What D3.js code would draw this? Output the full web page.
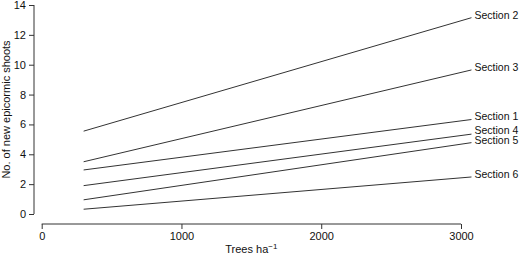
<!DOCTYPE html>
<html><head><meta charset="utf-8">
<script src="https://cdn.jsdelivr.net/npm/d3@7"></script>
<style>body{margin:0;background:#fff}svg{display:block}text{font-family:"Liberation Sans",Arial,sans-serif;fill:#111}</style>
</head><body>
<svg id="c" width="520" height="257"></svg>
<script>
const sections = ["Section 1","Section 2","Section 3","Section 4","Section 5","Section 6"];
const xValues = [300, 3075];
const startValues = [2.95, 5.55, 3.5, 1.9, 0.95, 0.32];
const endValues = [6.33, 13.15, 9.65, 5.35, 4.78, 2.48];
const labelOffsets = [0.12, 0.12, 0.12, 0.19, 0.07, 0.12];
const xTicks = [0, 1000, 2000, 3000];
const yTicks = [0, 2, 4, 6, 8, 10, 12, 14];

const svg = d3.select("#c");
const x = d3.scaleLinear().domain([0, 3000]).range([41.7, 461]);
const y = d3.scaleLinear().domain([0, 14]).range([214, 5]);

const col = "#333";
// y axis
const ya = svg.append("g").attr("transform","translate(34,0)")
  .call(d3.axisLeft(y).tickValues(yTicks).tickSize(5).tickPadding(3).tickFormat(d3.format("d")));
ya.select(".domain").attr("stroke",col).attr("d",`M0,${y(0)}V${y(14)}`);
ya.selectAll(".tick line").attr("stroke",col);
ya.selectAll("text").style("font-size","11px").attr("fill","#111").style("font-family","Liberation Sans, Arial, sans-serif");

// x axis
const xa = svg.append("g").attr("transform","translate(0,224)")
  .call(d3.axisBottom(x).tickValues(xTicks).tickSize(5).tickPadding(3).tickFormat(d3.format("d")));
xa.select(".domain").attr("stroke",col).attr("d",`M${x(0)},0H${x(3000)}`);
xa.selectAll(".tick line").attr("stroke",col);
xa.selectAll("text").style("font-size","11px").attr("fill","#111").style("font-family","Liberation Sans, Arial, sans-serif");

// lines
const line = d3.line().x(d=>x(d[0])).y(d=>y(d[1]));
sections.forEach((s,i)=>{
  const pts = [[xValues[0], startValues[i]],[xValues[1], endValues[i]]];
  svg.append("path").attr("d", line(pts)).attr("fill","none").attr("stroke","#333").attr("stroke-width",1);
  svg.append("text").attr("x", x(xValues[1]) + 3).attr("y", y(endValues[i] + labelOffsets[i]))
    .attr("dominant-baseline","middle").style("font-size","10.5px").text(s);
});

// titles
svg.append("text").attr("transform",`translate(10,${(y(0)+y(14))/2}) rotate(-90)`)
  .attr("text-anchor","middle").style("font-size","11px").text("No. of new epicormic shoots");
const xt = svg.append("text").attr("x",(x(0)+x(3000))/2).attr("y",253).attr("text-anchor","middle").style("font-size","11px");
xt.append("tspan").text("Trees ha");
xt.append("tspan").attr("dy",-4).style("font-size","8px").text("−1");
</script>
</body></html>
